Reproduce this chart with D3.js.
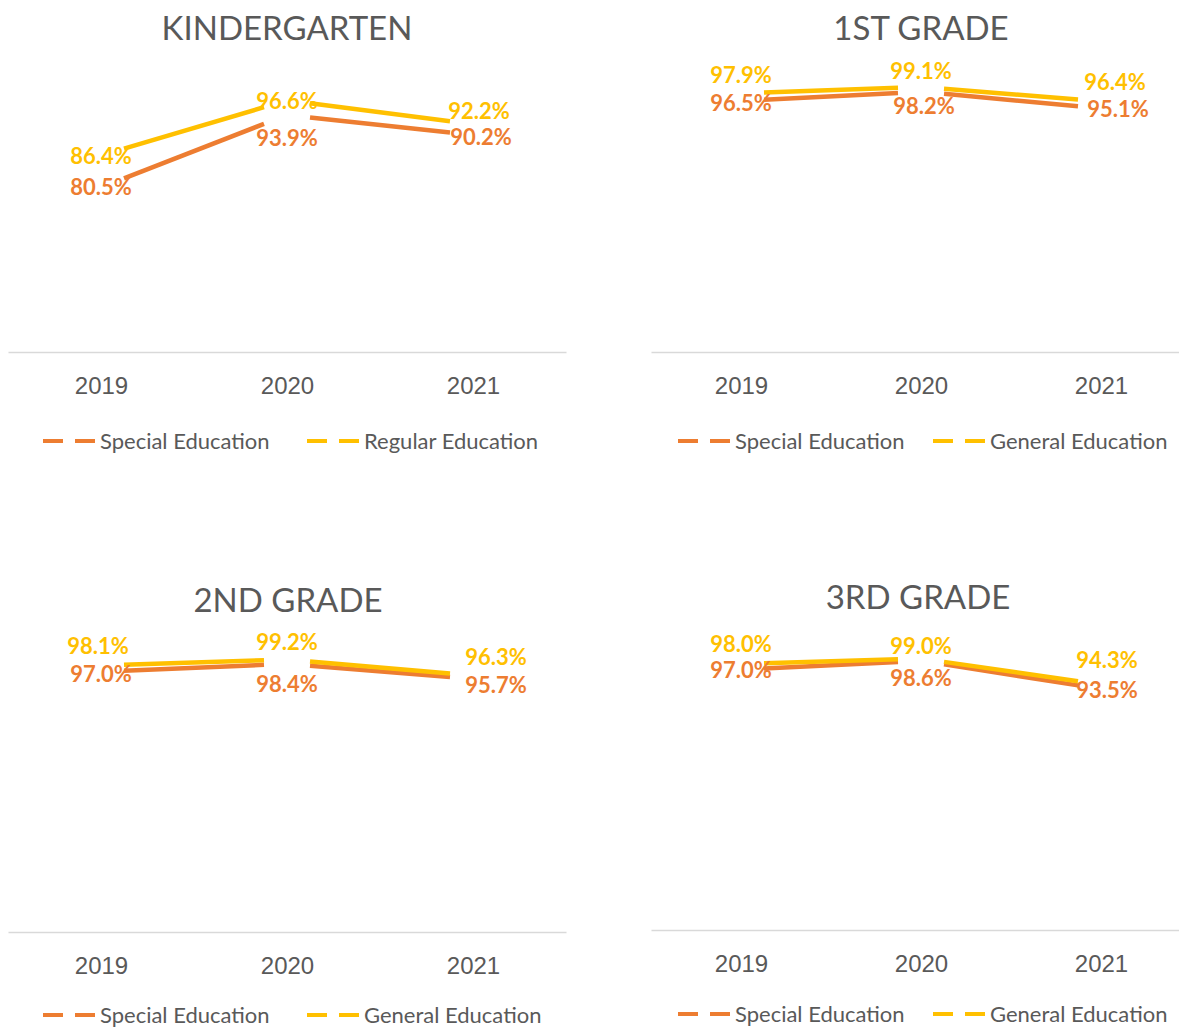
<!DOCTYPE html>
<html>
<head>
<meta charset="utf-8">
<script src="https://cdn.jsdelivr.net/npm/d3@7"></script>
<style>
  body { margin: 0; background: #fff; }
  svg { display: block; font-family: Lato, "Open Sans", sans-serif; }
  .title { fill: #595959; }
  .tick text { fill: #595959; }
  .legend text { fill: #595959; }
</style>
</head>
<body>
<svg width="1179" height="1030"></svg>
<script>
// Data
var years = ["2019", "2020", "2021"];
var gradeTitles = ["KINDERGARTEN", "1ST GRADE", "2ND GRADE", "3RD GRADE"];
var specialEd = [
  [80.5, 93.9, 90.2],
  [96.5, 98.2, 95.1],
  [97.0, 98.4, 95.7],
  [97.0, 98.6, 93.5]
];
var generalEd = [
  [86.4, 96.6, 92.2],
  [97.9, 99.1, 96.4],
  [98.1, 99.2, 96.3],
  [98.0, 99.0, 94.3]
];
var specialNames = ["Special Education", "Special Education", "Special Education", "Special Education"];
var generalNames = ["Regular Education", "General Education", "General Education", "General Education"];
var yMin = 50, yMax = 100;

// Layout of the four panels
var panels = [
  { x0: 8,   x1: 566,  titleX: 287, titleY: 28,  top: 82,  axisY: 352, legendY: 441, legX: [43, 307] },
  { x0: 651, x1: 1191, titleX: 921, titleY: 28,  top: 82,  axisY: 352, legendY: 441, legX: [678, 933] },
  { x0: 8,   x1: 566,  titleX: 288, titleY: 600, top: 655, axisY: 932, legendY: 1015, legX: [43, 307] },
  { x0: 651, x1: 1191, titleX: 918, titleY: 597, top: 653, axisY: 930, legendY: 1014, legX: [678, 933] }
];
// nudges for the data labels [dx, dy], as placed in the reference
var specialLabelNudge = [
  [[0, 0], [0, 23], [8, 2]],
  [[0, 2], [3, 15], [17, 1]],
  [[0, 3], [0, 20], [23, 6]],
  [[0, 1], [0, 18], [6, 1]]
];
var generalLabelNudge = [
  [[0, 1], [0, 1], [6, -13]],
  [[0, -18], [0, -16], [14, -19]],
  [[-3, -19], [0, -17], [23, -18]],
  [[0, -20], [0, -12], [6, -24]]
];

var orange = "#ED7D31", yellow = "#FFC000";
var gap = 23;
var fmt = function(v) { return d3.format(".1f")(v) + "%"; };

var svg = d3.select("svg");

panels.forEach(function(p, i) {
  var g = svg.append("g");

  var x = d3.scalePoint().domain(years).range([p.x0, p.x1]).padding(0.5);
  var y = d3.scaleLinear().domain([yMin, yMax]).range([p.axisY, p.top]);

  // Title
  g.append("text")
    .attr("class", "title")
    .attr("x", p.titleX)
    .attr("y", p.titleY)
    .attr("dy", "0.35em")
    .attr("text-anchor", "middle")
    .style("font-size", "33px")
    .text(gradeTitles[i]);

  // Axis
  var axis = g.append("g")
    .attr("transform", "translate(0," + p.axisY + ")")
    .call(d3.axisBottom(x).tickSize(0).tickPadding(25));
  axis.select(".domain").attr("stroke", "#D9D9D9").attr("stroke-width", 1.5);
  axis.selectAll(".tick text").style("font-size", "24px").attr("font-family", null);

  // Lines, drawn as segments with a gap around every point
  var series = [
    { vals: specialEd[i], color: orange, nudge: specialLabelNudge[i] },
    { vals: generalEd[i], color: yellow, nudge: generalLabelNudge[i] }
  ];
  series.forEach(function(s) {
    var pts = s.vals.map(function(v, j) { return [x(years[j]), y(v)]; });
    g.selectAll(null)
      .data(d3.pairs(pts))
      .enter().append("line")
      .attr("stroke", s.color)
      .attr("stroke-width", 4.5)
      .attr("x1", function(d) { var t = gap / (d[1][0] - d[0][0]); return d[0][0] + t * (d[1][0] - d[0][0]); })
      .attr("y1", function(d) { var t = gap / (d[1][0] - d[0][0]); return d[0][1] + t * (d[1][1] - d[0][1]); })
      .attr("x2", function(d) { var t = gap / (d[1][0] - d[0][0]); return d[1][0] - t * (d[1][0] - d[0][0]); })
      .attr("y2", function(d) { var t = gap / (d[1][0] - d[0][0]); return d[1][1] - t * (d[1][1] - d[0][1]); });
  });

  // Data labels
  series.forEach(function(s) {
    g.selectAll(null)
      .data(s.vals)
      .enter().append("text")
      .attr("x", function(d, j) { return x(years[j]) + s.nudge[j][0]; })
      .attr("y", function(d, j) { return y(d) + s.nudge[j][1]; })
      .attr("dy", "0.35em")
      .attr("text-anchor", "middle")
      .attr("fill", s.color)
      .style("font-size", "22px")
      .style("font-weight", "bold")
      .text(fmt);
  });

  // Legend
  var leg = g.append("g").attr("class", "legend");
  [{ name: specialNames[i], color: orange }, { name: generalNames[i], color: yellow }].forEach(function(l, k) {
    var lx = p.legX[k];
    leg.append("line")
      .attr("x1", lx).attr("x2", lx + 54)
      .attr("y1", p.legendY).attr("y2", p.legendY)
      .attr("stroke", l.color)
      .attr("stroke-width", 4)
      .attr("stroke-dasharray", "20,12");
    leg.append("text")
      .attr("x", lx + 57)
      .attr("y", p.legendY)
      .attr("dy", "0.35em")
      .style("font-size", "22px")
      .text(l.name);
  });
});
</script>
</body>
</html>
